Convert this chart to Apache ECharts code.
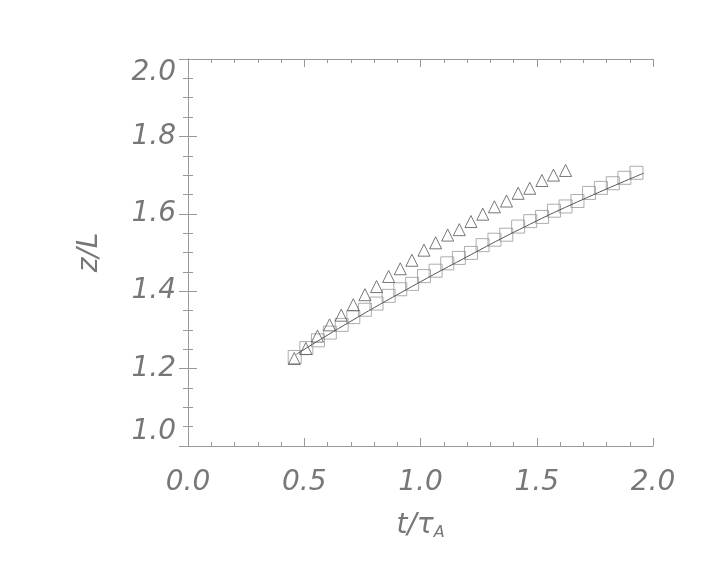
<!DOCTYPE html>
<html>
<head>
<meta charset="utf-8">
<script src="https://cdn.jsdelivr.net/npm/echarts@6/dist/echarts.min.js"></script>
<style>
  html, body { margin: 0; padding: 0; background: #fff; }
  #chart { width: 708px; height: 566px; }
</style>
</head>
<body>
<div id="chart"></div>
<script>
// Square markers (t/tau_A, z/L)
const squareT = [0.459, 0.509, 0.559, 0.610, 0.661, 0.711, 0.761, 0.811, 0.863, 0.913,
                 0.964, 1.015, 1.065, 1.115, 1.165, 1.217, 1.267, 1.318, 1.369, 1.420,
                 1.472, 1.523, 1.574, 1.624, 1.675, 1.725, 1.776, 1.827, 1.877, 1.929];
const squareZ = [1.230, 1.253, 1.273, 1.293, 1.313, 1.333, 1.352, 1.368, 1.388, 1.405,
                 1.419, 1.439, 1.453, 1.472, 1.486, 1.499, 1.519, 1.533, 1.546, 1.567,
                 1.581, 1.592, 1.608, 1.619, 1.633, 1.654, 1.667, 1.679, 1.693, 1.706];
// Triangle markers
const triT = [0.457, 0.507, 0.557, 0.609, 0.659, 0.711, 0.761, 0.811, 0.863, 0.913,
              0.963, 1.015, 1.065, 1.117, 1.167, 1.217, 1.268, 1.318, 1.370, 1.420,
              1.470, 1.522, 1.572, 1.624];
const triZ = [1.226, 1.252, 1.284, 1.313, 1.338, 1.365, 1.391, 1.412, 1.438, 1.458,
              1.480, 1.506, 1.525, 1.545, 1.559, 1.580, 1.599, 1.618, 1.633, 1.653,
              1.666, 1.686, 1.700, 1.712];
// Fitted curve
const fitT = [0.466, 0.688, 0.939, 1.197, 1.447, 1.698, 1.960];
const fitZ = [1.237, 1.318, 1.404, 1.488, 1.566, 1.637, 1.705];

const xTicks = [0.0, 0.5, 1.0, 1.5, 2.0];
const yTicks = [1.0, 1.2, 1.4, 1.6, 1.8, 2.0];

const zip = (a, b) => a.map((v, i) => [v, b[i]]);

const axisCol = '#999';
const textCol = '#777';
const fontFam = '"DejaVu Sans ExtraLight", "DejaVu Sans", sans-serif';

const chart = echarts.init(document.getElementById('chart'), null, { renderer: 'canvas' });

const xBase = {
  type: 'value', min: xTicks[0], max: xTicks[xTicks.length - 1], interval: 0.5,
  axisLine: { show: true, lineStyle: { color: axisCol, width: 1 } },
  axisTick: { show: true, inside: true, length: 8, lineStyle: { color: axisCol } },
  minorTick: { show: true, splitNumber: 5, length: 4, lineStyle: { color: axisCol } },
  splitLine: { show: false }
};
const yBase = {
  type: 'value', min: yTicks[0], max: yTicks[yTicks.length - 1], interval: 0.2,
  axisLine: { show: true, lineStyle: { color: axisCol, width: 1 } },
  axisTick: { show: true, inside: true, length: 9, lineStyle: { color: axisCol } },
  minorTick: { show: true, splitNumber: 4, length: 5, lineStyle: { color: axisCol } },
  splitLine: { show: false }
};

chart.setOption({
  backgroundColor: '#fff',
  animation: false,
  grid: { left: 188, right: 55, top: 59, bottom: 120, containLabel: false },
  xAxis: [
    Object.assign({}, xBase, {
      position: 'bottom',
      axisLabel: {
        show: true, margin: 23, color: textCol, fontSize: 28, fontStyle: 'italic',
        fontFamily: fontFam,
        formatter: v => v.toFixed(1)
      },
      name: '{a|t/τ}{b|A}',
      nameLocation: 'middle',
      nameGap: 65,
      nameTextStyle: {
        rich: {
          a: { fontSize: 28, fontStyle: 'italic', color: textCol, fontFamily: fontFam },
          b: { fontSize: 16, fontStyle: 'italic', color: textCol, fontFamily: fontFam, padding: [14, 0, 0, 0] }
        }
      }
    }),
    Object.assign({}, xBase, { position: 'top', axisLabel: { show: false } })
  ],
  yAxis: [
    Object.assign({}, yBase, {
      position: 'left',
      axisLabel: {
        show: true, margin: 12, color: textCol, fontSize: 28, fontStyle: 'italic',
        fontFamily: fontFam,
        verticalAlignMinLabel: 'bottom',
        verticalAlignMaxLabel: 'top',
        formatter: v => v.toFixed(1)
      },
      name: 'z/L',
      nameLocation: 'middle',
      nameGap: 84,
      nameRotate: 90,
      nameTextStyle: { fontSize: 28, fontStyle: 'italic', color: textCol, fontFamily: fontFam }
    }),
    Object.assign({}, yBase, { position: 'right', axisLabel: { show: false } })
  ],
  series: [
    {
      type: 'line', xAxisIndex: 0, yAxisIndex: 0,
      data: zip(fitT, fitZ), smooth: true, showSymbol: false,
      lineStyle: { color: '#555', width: 1 }, z: 3
    },
    {
      type: 'scatter', xAxisIndex: 0, yAxisIndex: 0,
      data: zip(squareT, squareZ), symbol: 'rect', symbolSize: 13,
      itemStyle: { color: 'rgba(0,0,0,0)', borderColor: '#999', borderWidth: 1 }, z: 2
    },
    {
      type: 'scatter', xAxisIndex: 0, yAxisIndex: 0,
      data: zip(triT, triZ), symbol: 'triangle', symbolSize: 12,
      itemStyle: { color: 'rgba(0,0,0,0)', borderColor: '#555', borderWidth: 1 }, z: 4
    }
  ]
});
</script>
</body>
</html>
